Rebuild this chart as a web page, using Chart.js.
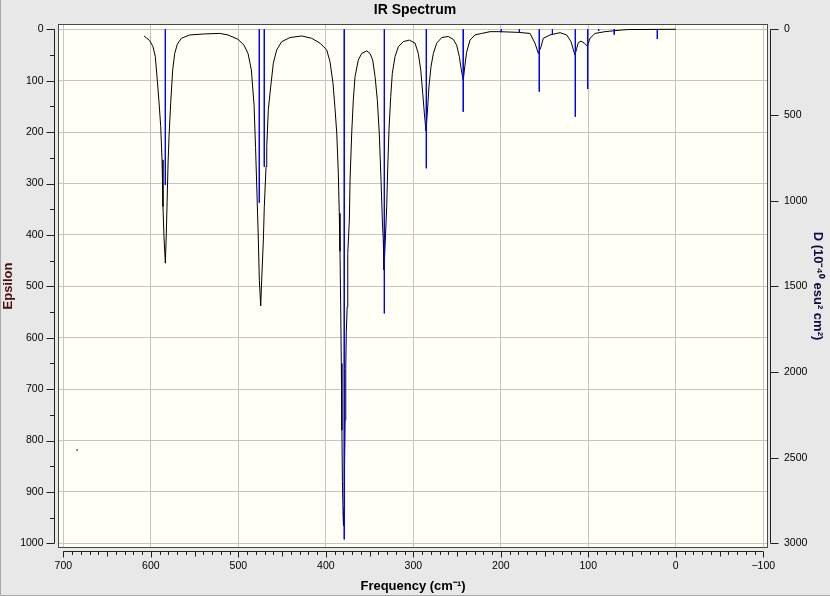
<!DOCTYPE html>
<html>
<head>
<meta charset="utf-8">
<title>IR Spectrum</title>
<script src="https://cdn.jsdelivr.net/npm/chart.js@4.4.0/dist/chart.umd.min.js"></script>
<style>
  html, body { margin: 0; padding: 0; background: #e8e8e8; }
  #myChart { display: block; }
</style>
</head>
<body>
<canvas id="myChart" width="830" height="596"></canvas>
<script>
// espectro (curva negra)
const frecuencias = [607.8, 601.3, 597.5, 594.9, 592.6, 590.6, 588.7, 587.2, 586.1, 585.0, 583.4, 582.3, 580.3, 579.2, 577.3, 575.0, 572.7, 569.7, 565.1, 555.6, 538.4, 521.2, 511.8, 500.3, 493.5, 488.9, 485.1, 482.0, 480.3, 478.5, 477.1, 476.0, 474.4, 473.3, 471.4, 470.3, 468.3, 467.5, 465.7, 463.0, 460.0, 456.1, 450.4, 440.9, 427.5, 416.1, 406.6, 399.0, 395.2, 391.8, 389.5, 387.5, 385.7, 384.6, 383.8, 383.0, 382.3, 381.6, 381.0, 380.3, 379.8, 379.2, 378.6, 377.9, 377.2, 376.6, 375.6, 374.9, 373.1, 372.3, 370.4, 368.6, 366.6, 362.9, 359.0, 353.2, 349.5, 346.4, 343.7, 341.1, 338.9, 336.9, 335.4, 334.3, 333.5, 332.0, 330.4, 329.3, 327.8, 325.8, 324.0, 320.9, 317.1, 311.4, 304.5, 298.0, 294.3, 291.5, 289.2, 287.4, 285.5, 284.0, 282.1, 279.8, 277.1, 273.3, 267.5, 260.0, 254.3, 250.4, 247.4, 245.1, 242.9, 241.0, 239.1, 235.2, 229.5, 221.8, 212.3, 200.9, 180.0, 166.6, 160.9, 157.1, 154.0, 151.4, 143.8, 132.3, 124.7, 119.7, 117.1, 115.2, 113.2, 111.4, 108.3, 104.6, 101.1, 98.1, 92.3, 80.9, 61.8, 54.3, 0];
const epsilon = [13, 22, 34, 53, 99, 143, 189, 254, 345, 403, 455, 397, 260, 209, 143, 79, 47, 29, 17.5, 11, 9, 8, 11, 19.5, 31, 47, 79, 148, 230, 330, 410, 488, 538, 488, 410, 345, 267, 228, 156, 112, 66, 40, 24, 16, 13, 17.5, 27, 40, 63, 105, 154, 202, 280, 358, 432, 540, 650, 780, 880, 940, 965, 930, 850, 760, 660, 590, 540, 436, 371, 293, 202, 138, 92, 60, 47, 42, 47, 60, 92, 138, 202, 293, 371, 410, 468, 410, 345, 274, 196, 131, 86, 53, 34, 24, 21, 27, 47, 79, 125, 163, 198, 163, 112, 73, 47, 27, 16, 14, 19.5, 31, 53, 79, 99, 70, 45, 21, 11, 8, 4.6, 4.6, 6, 8, 27, 47, 34, 17.5, 11, 6.6, 11, 24, 40, 50, 37, 26, 23, 27, 32.5, 17.5, 8, 4.6, 1.4, 0.5, 0];

// lineas azules (eje D)
const stickFrecuencias = [583.4, 476.0, 470.3, 378.9, 333.1, 285.1, 242.9, 199.4, 178.8, 156.0, 141.0, 114.8, 100.7, 88.1, 70.3, 21.1];
const stickD = [909, 1012, 802, 2977, 1658, 811, 481, 17, 17, 364, 29, 510, 348, 10, 31, 57];

// punto suelto abajo a la izquierda
const puntoFrecuencia = [684.3];
const puntoEpsilon = [818.5];

const ticksX = [700, 600, 500, 400, 300, 200, 100, 0, -100];
const ticksEpsilon = [0, 100, 200, 300, 400, 500, 600, 700, 800, 900, 1000];
const ticksD = [0, 500, 1000, 1500, 2000, 2500, 3000];

const fuente = '"Liberation Sans", Arial, sans-serif';

const curva = frecuencias.map((f, i) => ({ x: f, y: epsilon[i] }));
const sticks = [];
stickFrecuencias.forEach((f, i) => {
    sticks.push({ x: f, y: 0 }, { x: f, y: stickD[i] }, { x: f, y: null });
});
const punto = puntoFrecuencia.map((f, i) => ({ x: f, y: puntoEpsilon[i] }));

const etiqueta = v => v < 0 ? '\u2212' + (-v) : String(v);

const fondo = {
    id: 'fondo',
    beforeDraw(chart) {
        const { ctx, chartArea: a } = chart;
        ctx.save();
        ctx.fillStyle = '#e8e8e8';
        ctx.fillRect(0, 0, chart.width, chart.height);
        ctx.fillStyle = '#fffff5';
        ctx.fillRect(a.left, a.top, a.right - a.left, a.bottom - a.top);
        ctx.restore();
    },
    afterDraw(chart) {
        const { ctx, chartArea: a, scales } = chart;
        const sx = scales.x, sy = scales.y, sy2 = scales.y2;
        ctx.save();
        ctx.lineWidth = 1;

        // marco del area
        ctx.strokeStyle = '#484848';
        ctx.strokeRect(Math.round(a.left) + 0.5, Math.round(a.top) + 0.5,
            Math.round(a.right - a.left) - 1, Math.round(a.bottom - a.top) - 1);

        ctx.strokeStyle = '#202020';
        ctx.beginPath();

        // eje izquierdo
        const xl = Math.round(a.left) - 3.5;
        ctx.moveTo(xl, sy.getPixelForValue(0));
        ctx.lineTo(xl, sy.getPixelForValue(1000));
        for (let v = 0; v <= 1000; v += 50) {
            const p = Math.round(sy.getPixelForValue(v)) + 0.5;
            ctx.moveTo(xl, p);
            ctx.lineTo(xl - (v % 100 === 0 ? 8 : 4.5), p);
        }

        // eje inferior
        const yb = Math.round(a.bottom) + 3.5;
        ctx.moveTo(sx.getPixelForValue(700), yb);
        ctx.lineTo(sx.getPixelForValue(-100), yb);
        for (let v = -100; v <= 700; v += 10) {
            const p = Math.round(sx.getPixelForValue(v)) + 0.5;
            const largo = v % 100 === 0 ? 6 : (v % 50 === 0 ? 5 : 3.5);
            ctx.moveTo(p, yb);
            ctx.lineTo(p, yb + largo);
        }

        // eje derecho
        const xr = Math.round(a.right) + 2.5;
        ctx.moveTo(xr, sy2.getPixelForValue(0));
        ctx.lineTo(xr, sy2.getPixelForValue(3000));
        for (const v of ticksD) {
            const p = Math.round(sy2.getPixelForValue(v)) + 0.5;
            ctx.moveTo(xr, p);
            ctx.lineTo(xr + 8, p);
        }
        ctx.stroke();

        // borde de la ventana
        ctx.strokeStyle = '#a8a8a8';
        ctx.beginPath();
        ctx.moveTo(0.5, 0);
        ctx.lineTo(0.5, chart.height - 0.5);
        ctx.lineTo(chart.width, chart.height - 0.5);
        ctx.stroke();
        ctx.restore();
    }
};

const ctx = document.getElementById('myChart').getContext('2d');
const myChart = new Chart(ctx, {
    type: 'line',
    data: {
        datasets: [
            {
                label: 'D',
                data: sticks,
                borderColor: '#0000ff',
                borderWidth: 1,
                pointRadius: 0,
                spanGaps: false,
                yAxisID: 'y2',
                order: 0
            },
            {
                label: 'Epsilon',
                data: curva,
                borderColor: '#000000',
                borderWidth: 1,
                pointRadius: 0,
                tension: 0,
                yAxisID: 'y',
                order: 1
            },
            {
                label: 'punto',
                data: punto,
                showLine: false,
                pointRadius: 0.8,
                pointBorderWidth: 0,
                pointBackgroundColor: '#000000',
                yAxisID: 'y',
                order: 2
            }
        ]
    },
    options: {
        responsive: false,
        animation: false,
        devicePixelRatio: 1,
        layout: { padding: 0 },
        plugins: {
            legend: { display: false },
            tooltip: { enabled: false },
            title: {
                display: true,
                text: 'IR Spectrum',
                color: '#000000',
                font: { family: fuente, size: 14, weight: 'bold' },
                padding: { top: 2, bottom: 5.2 }
            }
        },
        scales: {
            x: {
                type: 'linear',
                reverse: true,
                min: -105.4,
                max: 706.1,
                afterBuildTicks: s => { s.ticks = ticksX.map(v => ({ value: v })); },
                afterFit: s => { s.height = 48; },
                grid: { color: '#c4c4c4', drawTicks: false },
                border: { display: false },
                ticks: {
                    padding: 12,
                    color: '#000000',
                    autoSkip: false,
                    maxRotation: 0,
                    font: { family: fuente, size: 10.5 },
                    callback: etiqueta
                },
                title: {
                    display: true,
                    text: 'Frequency (cm\u207B\u00B9)',
                    color: '#000000',
                    font: { family: fuente, size: 13, weight: 'bold' },
                    padding: { top: 0, bottom: 1.5 }
                }
            },
            y: {
                position: 'left',
                reverse: true,
                min: -10.3,
                max: 1009.1,
                afterBuildTicks: s => { s.ticks = ticksEpsilon.map(v => ({ value: v })); },
                afterFit: s => { s.width = 58; },
                grid: { color: '#c4c4c4', drawTicks: false },
                border: { display: false },
                ticks: {
                    padding: 14.5,
                    color: '#000000',
                    autoSkip: false,
                    font: { family: fuente, size: 10.5 },
                    callback: etiqueta
                },
                title: {
                    display: true,
                    text: 'Epsilon',
                    color: '#4a0e0e',
                    font: { family: fuente, size: 13, weight: 'bold' },
                    padding: { top: 1, bottom: 0 }
                }
            },
            y2: {
                position: 'right',
                reverse: true,
                min: -30.9,
                max: 3027.3,
                afterBuildTicks: s => { s.ticks = ticksD.map(v => ({ value: v })); },
                afterFit: s => { s.width = 62; },
                grid: { display: false, drawOnChartArea: false, drawTicks: false },
                border: { display: false },
                ticks: {
                    padding: 16,
                    color: '#000000',
                    autoSkip: false,
                    font: { family: fuente, size: 10.5 },
                    callback: etiqueta
                },
                title: {
                    display: true,
                    text: 'D (10\u207B\u2074\u2070 esu\u00B2 cm\u00B2)',
                    color: '#0a0a3c',
                    font: { family: fuente, size: 13, weight: 'bold' },
                    padding: { top: 4.2, bottom: 0 }
                }
            }
        }
    },
    plugins: [fondo]
});
</script>
</body>
</html>
